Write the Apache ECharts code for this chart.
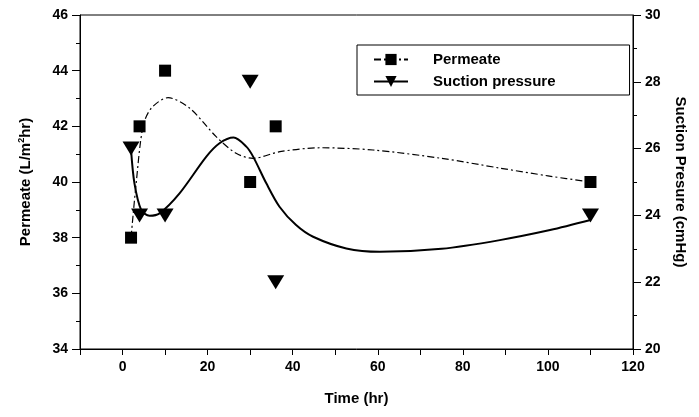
<!DOCTYPE html>
<html>
<head>
<meta charset="utf-8">
<script src="https://cdn.jsdelivr.net/npm/echarts@6/dist/echarts.min.js"></script>
<style>html,body{margin:0;padding:0;background:#fff}#c{width:699px;height:417px}</style>
</head>
<body>
<div id="c"></div>
<script>
// Measured data
var time = [2, 4, 10, 30, 36, 110];
var permeate = [38, 42, 44, 40, 42, 40];
var suction = [26, 24, 24, 28, 22, 24];

// Fitted curves
var permeateFitTime = [2, 3.2, 4.8, 6.75, 10.7, 15.8, 22, 26.7, 30.7, 37, 46.4, 58.9, 75, 88.7, 100, 110];
var permeateFit =     [38.0, 39.95, 41.99, 42.65, 43.03, 42.65, 41.63, 41.03, 40.85, 41.09, 41.23, 41.15, 40.85, 40.5, 40.22, 40.0];
var suctionFitTime = [2, 2.8, 4.4, 6.35, 8.7, 13.4, 19.7, 22.8, 26.1, 29.1, 30.7, 33.8, 36.9, 40.8, 44.8, 52.6, 60.5, 75, 88.7, 100.5, 110];
var suctionFit =     [25.96, 24.96, 24.16, 23.99, 24.06, 24.66, 25.76, 26.16, 26.33, 26.06, 25.76, 24.96, 24.26, 23.71, 23.36, 23.01, 22.91, 23.0, 23.26, 23.56, 23.86];

var xTicks = [0, 20, 40, 60, 80, 100, 120];

function pairs(xs, ys) { return xs.map(function (x, i) { return [x, ys[i]]; }); }

var FONT = 'Liberation Sans, Arial, sans-serif';
var chart = echarts.init(document.getElementById('c'), null, { renderer: 'canvas' });
chart.setOption({
  animation: false,
  backgroundColor: '#fff',
  grid: { left: 80, right: 66, top: 15, bottom: 68, show: true, borderColor: '#000', borderWidth: 1 },
  legend: {
    orient: 'vertical', left: 357, top: 45,
    borderColor: '#000', borderWidth: 1, padding: [7, 74, 6, 16],
    itemWidth: 34, itemHeight: 14, itemGap: 7,
    textStyle: { fontFamily: FONT, fontWeight: 'bold', fontSize: 15, color: '#000', padding: [0, 0, 0, 20] },
    data: ['Permeate', 'Suction pressure']
  },
  xAxis: {
    type: 'value', min: -10, max: 120, interval: 10,
    name: 'Time (hr)', nameLocation: 'middle', nameGap: 42,
    nameTextStyle: { fontFamily: FONT, fontWeight: 'bold', fontSize: 15, color: '#000' },
    axisLine: { onZero: false, lineStyle: { color: '#000', width: 1 } },
    axisTick: { length: 6, lineStyle: { color: '#000' } },
    splitLine: { show: false },
    axisLabel: {
      fontFamily: FONT, fontWeight: 'bold', fontSize: 14, color: '#000', margin: 11,
      formatter: function (v) { return xTicks.indexOf(v) >= 0 ? String(v) : ''; }
    }
  },
  yAxis: [{
    type: 'value', min: 34, max: 46, interval: 2,
    name: 'Permeate (L/m{sup|2}hr)', nameLocation: 'middle', nameGap: 46, nameRotate: 90,
    nameTextStyle: { fontFamily: FONT, fontWeight: 'bold', fontSize: 15, color: '#000',
      rich: { sup: { fontFamily: FONT, fontWeight: 'bold', fontSize: 9, color: '#000', verticalAlign: 'top', padding: [0, 0, 8, 0] } } },
    axisLine: { show: true, onZero: false, lineStyle: { color: '#000', width: 1 } },
    axisTick: { length: 8, lineStyle: { color: '#000' } },
    minorTick: { show: true, splitNumber: 2, length: 4, lineStyle: { color: '#000' } },
    splitLine: { show: false },
    axisLabel: { fontFamily: FONT, fontWeight: 'bold', fontSize: 14, color: '#000', margin: 12 }
  }, {
    type: 'value', min: 20, max: 30, interval: 2, position: 'right',
    name: 'Suction Presure (cmHg)', nameLocation: 'middle', nameGap: 40, nameRotate: -90,
    nameTextStyle: { fontFamily: FONT, fontWeight: 'bold', fontSize: 15, color: '#000' },
    axisLine: { show: true, onZero: false, lineStyle: { color: '#000', width: 1 } },
    axisTick: { length: 8, lineStyle: { color: '#000' } },
    minorTick: { show: true, splitNumber: 2, length: 4, lineStyle: { color: '#000' } },
    splitLine: { show: false },
    axisLabel: { fontFamily: FONT, fontWeight: 'bold', fontSize: 14, color: '#000', margin: 12 }
  }],
  series: [{
    name: 'Permeate', type: 'line', yAxisIndex: 0,
    data: pairs(permeateFitTime, permeateFit), smooth: 0.3,
    symbol: 'rect', symbolSize: 9, showSymbol: false,
    itemStyle: { color: '#000', opacity: 1 },
    lineStyle: { color: '#000', width: 1.2, type: [7, 3, 2, 3] }
  }, {
    name: 'Suction pressure', type: 'line', yAxisIndex: 1,
    data: pairs(suctionFitTime, suctionFit), smooth: 0.3,
    symbol: 'triangle', symbolRotate: 180, symbolSize: 11, showSymbol: false,
    itemStyle: { color: '#000', opacity: 1 },
    lineStyle: { color: '#000', width: 2 }
  }, {
    name: 'PermeatePts', type: 'scatter', yAxisIndex: 0,
    data: pairs(time, permeate), symbol: 'rect', symbolSize: 12,
    itemStyle: { color: '#000', opacity: 1 }, z: 5
  }, {
    name: 'SuctionPts', type: 'scatter', yAxisIndex: 1,
    data: pairs(time, suction), symbol: 'triangle', symbolRotate: 180, symbolSize: [17, 14],
    itemStyle: { color: '#000', opacity: 1 }, z: 5
  }]
});
</script>
</body>
</html>
